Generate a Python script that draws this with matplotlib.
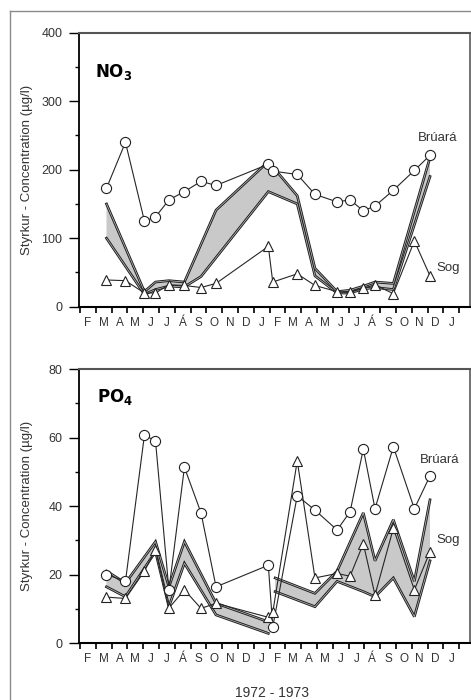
import matplotlib
matplotlib.use("Agg")
import matplotlib.pyplot as plt
from matplotlib.lines import Line2D
import numpy as np

plt.rcParams['font.family'] = ['Liberation Sans', 'DejaVu Sans']

# ---------------- data ----------------
# sampling dates in months since 1 Feb 1972
sample_month = [1.68, 2.88, 4.08, 4.78, 5.63, 6.61, 7.66, 8.61, 11.92, 12.2,
                13.75, 14.87, 16.27, 17.09, 17.93, 18.67, 19.83, 21.16, 22.15]

month_labels = ['F', 'M', 'A', 'M', 'J', 'J', 'Á', 'S', 'O', 'N', 'D', 'J',
                'F', 'M', 'A', 'M', 'J', 'J', 'Á', 'S', 'O', 'N', 'D', 'J']

# NO3 (µg/l)
no3_bruara = [173, 240, 125, 131, 156, 168, 183, 177, 208, 198,
              193, 164, 153, 156, 140, 147, 170, 199, 221]
no3_sog = [39, 38, 20, 20, 32, 31, 28, 34, 88, 36,
           48, 31, 22, 21, 27, 32, 19, 96, 45]
no3_band_upper_x = [1.68, 4.08, 4.78, 5.63, 6.61, 8.61, 11.92, 13.75, 14.87,
                    16.27, 17.09, 17.93, 18.67, 19.83, 22.15]
no3_band_upper = [150, 22, 36, 38, 36, 141, 212, 162, 56,
                  22, 24, 30, 36, 34, 218]
no3_band_lower_x = [1.68, 4.08, 4.78, 5.63, 6.61, 7.66, 11.92, 13.75, 14.87,
                    16.27, 17.09, 17.93, 18.67, 19.83, 22.15]
no3_band_lower = [100, 18, 25, 30, 29, 44, 168, 150, 45,
                  20, 20, 26, 28, 25, 190]

# PO4 (µg/l)
po4_bruara = [20, 18, 60.7, 59, 15.5, 51.3, 38, 16.4, 22.7, 4.7,
              43, 38.8, 33, 38.3, 56.6, 39.2, 57.3, 39.2, 48.8]
po4_sog = [13.4, 13, 21, 27.2, 10.2, 15.5, 10.1, 11.6, 7.5, 9,
           53.2, 19, 20.3, 19.5, 29, 14, 33.5, 15.5, 26.7]
po4_band1_x = [1.68, 2.88, 4.78, 5.63, 6.61, 8.61, 11.92]
po4_band1_upper = [21, 17.5, 29.6, 16.4, 29.6, 11.6, 6.2]
po4_band1_lower = [16.4, 13.5, 26.7, 10.6, 23.3, 8.2, 2.8]
po4_band2_x = [12.35, 14.87, 16.27, 17.93, 18.67, 19.83, 21.16, 22.15]
po4_band2_upper = [19, 14.5, 21, 38, 24, 36, 18, 41.8]
po4_band2_lower = [15, 10.6, 18, 15, 13.5, 19, 7.7, 24]

# ---------------- figure ----------------
W, H = 471, 700
fig = plt.figure(figsize=(W / 100, H / 100), dpi=100)
fig.patch.set_facecolor('white')

# page frame of the scan
fig.add_artist(Line2D([10 / W, 10 / W], [0, 1 - 11 / H], color='#8a8a8a', lw=1.0))
fig.add_artist(Line2D([10 / W, 1], [1 - 11 / H, 1 - 11 / H], color='#8a8a8a', lw=1.0))

ax1 = fig.add_axes([79 / W, 1 - 306.7 / H, (470 - 79) / W, (306.7 - 32.7) / H])
ax2 = fig.add_axes([79 / W, 1 - 643 / H, (470 - 79) / W, (643 - 369) / H])

LC = '#262626'
TC = '#333333'


def band(ax, ux, uy, lx, ly):
    xs = np.r_[ux, lx[::-1]]
    ys = np.r_[uy, ly[::-1]]
    ax.fill(xs, ys, facecolor='#c9c9c9', edgecolor='none', zorder=1)
    for x, y in ((ux, uy), (lx, ly)):
        ax.plot(x, y, color='#1a1a1a', lw=1.9, zorder=2, solid_joinstyle='miter')
        ax.plot(x, y, color='#b0b0b0', lw=0.6, zorder=2.1)


def series(ax, y, marker):
    ax.plot(sample_month, y, color=LC, lw=0.8, zorder=3)
    ax.plot(sample_month, y, ls='none', marker=marker, ms=7.3, mfc='white',
            mec='#222222', mew=0.8, zorder=4)


def style(ax, ymax, major, minor):
    ax.set_xlim(-0.06, 24.68)
    ax.set_ylim(0, ymax)
    ax.set_xticks(np.arange(0, 25, 1))
    ax.set_xticklabels([])
    ax.set_xticks(np.arange(0.5, 24, 1), minor=True)
    ax.set_xticklabels(month_labels, minor=True, fontsize=8.5, color=TC)
    ax.tick_params(axis='x', which='major', direction='out', length=4.5,
                   width=1.4, color='#222222')
    ax.tick_params(axis='x', which='minor', length=0, pad=7.5)
    ax.set_yticks(np.arange(0, ymax + 1, major))
    ax.set_yticks(np.arange(minor, ymax, major), minor=True)
    ax.tick_params(axis='y', which='major', direction='out', length=7,
                   width=1.0, labelsize=9, pad=5, labelcolor=TC)
    ax.tick_params(axis='y', which='minor', direction='out', length=3, width=1.0)
    ax.spines['left'].set_linewidth(1.3)
    ax.spines['bottom'].set_linewidth(1.5)
    ax.spines['top'].set_linewidth(1.5)
    ax.spines['top'].set_color('#555555')
    ax.spines['right'].set_linewidth(1.3)
    ax.spines['right'].set_color('#666666')
    ax.set_ylabel('Styrkur - Concentration (µg/l)', fontsize=9.5, color=TC)
    ax.yaxis.set_label_coords(-0.118, 0.5)


# NO3 panel
band(ax1, no3_band_upper_x, no3_band_upper, no3_band_lower_x, no3_band_lower)
series(ax1, no3_bruara, 'o')
series(ax1, no3_sog, '^')
style(ax1, 400, 100, 50)
ax1.text(0.95, 343, r'$\mathbf{NO_3}$', fontsize=12, va='center', ha='left')
ax1.text(22.66, 246, 'Brúará', fontsize=9.5, ha='center', va='center', color=TC)
ax1.text(23.3, 56, 'Sog', fontsize=9.5, ha='center', va='center', color=TC)

# PO4 panel
band(ax2, po4_band1_x, po4_band1_upper, po4_band1_x, po4_band1_lower)
band(ax2, po4_band2_x, po4_band2_upper, po4_band2_x, po4_band2_lower)
series(ax2, po4_bruara, 'o')
series(ax2, po4_sog, '^')
style(ax2, 80, 20, 10)
ax2.text(1.05, 71.8, r'$\mathbf{PO_4}$', fontsize=12, va='center', ha='left')
ax2.text(22.78, 53.4, 'Brúará', fontsize=9.5, ha='center', va='center', color=TC)
ax2.text(23.3, 30, 'Sog', fontsize=9.5, ha='center', va='center', color=TC)

fig.text(272 / W, 1 - 693 / H, '1972 - 1973', fontsize=10, ha='center', va='center',
         color=TC)

fig.savefig('out.png', dpi=100, facecolor='white')
